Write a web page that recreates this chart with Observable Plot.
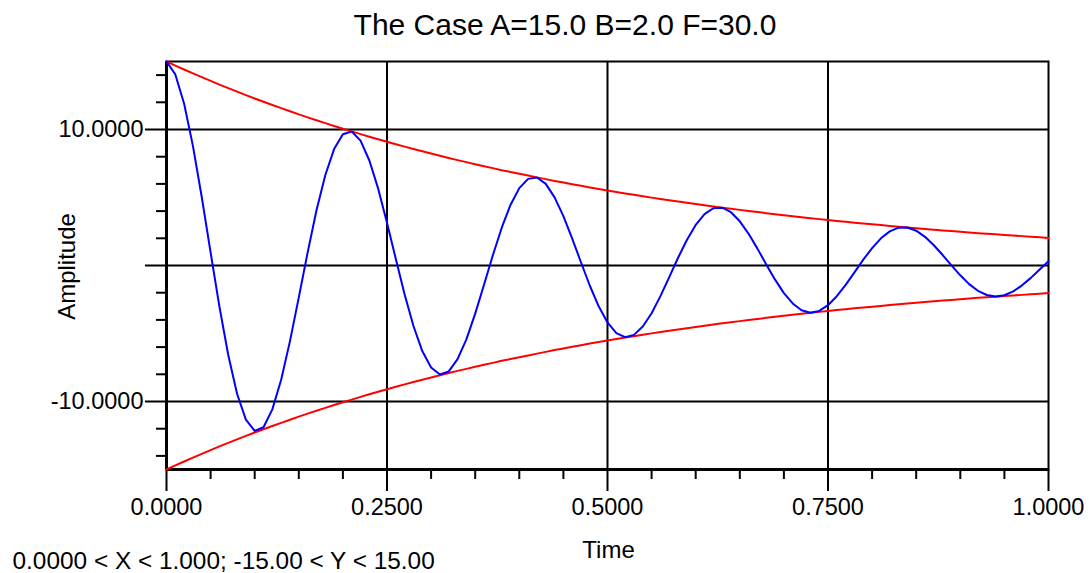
<!DOCTYPE html>
<html><head><meta charset="utf-8">
<script src="https://cdn.jsdelivr.net/npm/d3@7"></script>
<script src="https://cdn.jsdelivr.net/npm/@observablehq/plot@0.6"></script>
<style>html,body{margin:0;padding:0;background:#fff;} svg{display:block}</style>
</head><body><div id="chart"></div>
<script>
const T = [0.00,0.01,0.02,0.03,0.04,0.05,0.06,0.07,0.08,0.09,
0.10,0.11,0.12,0.13,0.14,0.15,0.16,0.17,0.18,0.19,
0.20,0.21,0.22,0.23,0.24,0.25,0.26,0.27,0.28,0.29,
0.30,0.31,0.32,0.33,0.34,0.35,0.36,0.37,0.38,0.39,
0.40,0.41,0.42,0.43,0.44,0.45,0.46,0.47,0.48,0.49,
0.50,0.51,0.52,0.53,0.54,0.55,0.56,0.57,0.58,0.59,
0.60,0.61,0.62,0.63,0.64,0.65,0.66,0.67,0.68,0.69,
0.70,0.71,0.72,0.73,0.74,0.75,0.76,0.77,0.78,0.79,
0.80,0.81,0.82,0.83,0.84,0.85,0.86,0.87,0.88,0.89,
0.90,0.91,0.92,0.93,0.94,0.95,0.96,0.97,0.98,0.99,
1.00];
const amplitude = [15.00,14.05,11.89,8.78,5.02,0.96,-3.02,-6.58,-9.43,-11.33,
-12.16,-11.89,-10.58,-8.40,-5.56,-2.34,0.95,4.04,6.64,8.56,
9.65,9.85,9.18,7.72,5.65,3.15,0.48,-2.13,-4.45,-6.29,
-7.50,-8.01,-7.79,-6.89,-5.43,-3.54,-1.42,0.75,2.76,4.45,
5.69,6.37,6.47,6.00,5.01,3.63,1.98,0.22,-1.49,-3.00,
-4.19,-4.97,-5.27,-5.10,-4.49,-3.51,-2.25,-0.85,0.57,1.88,
2.98,3.78,4.21,4.25,3.92,3.25,2.33,1.24,0.08,-1.04,
-2.03,-2.79,-3.29,-3.47,-3.34,-2.92,-2.26,-1.43,-0.51,0.43,
1.28,2.00,2.51,2.78,2.79,2.56,2.11,1.49,0.77,0.01,
-0.72,-1.37,-1.86,-2.17,-2.28,-2.19,-1.90,-1.46,-0.91,-0.30,
0.31];
const envUpper = [15.00,14.70,14.41,14.13,13.85,13.57,13.30,13.04,12.78,12.53,
12.28,12.04,11.80,11.57,11.34,11.11,10.89,10.68,10.47,10.26,
10.05,9.86,9.66,9.47,9.28,9.10,8.92,8.74,8.57,8.40,
8.23,8.07,7.91,7.75,7.60,7.45,7.30,7.16,7.01,6.88,
6.74,6.61,6.48,6.35,6.22,6.10,5.98,5.86,5.74,5.63,
5.52,5.41,5.30,5.20,5.09,4.99,4.89,4.80,4.70,4.61,
4.52,4.43,4.34,4.25,4.17,4.09,4.01,3.93,3.85,3.77,
3.70,3.63,3.55,3.48,3.41,3.35,3.28,3.22,3.15,3.09,
3.03,2.97,2.91,2.85,2.80,2.74,2.69,2.63,2.58,2.53,
2.48,2.43,2.38,2.34,2.29,2.24,2.20,2.16,2.11,2.07,
2.03];
const envLower = [-15.00,-14.70,-14.41,-14.13,-13.85,-13.57,-13.30,-13.04,-12.78,-12.53,
-12.28,-12.04,-11.80,-11.57,-11.34,-11.11,-10.89,-10.68,-10.47,-10.26,
-10.05,-9.86,-9.66,-9.47,-9.28,-9.10,-8.92,-8.74,-8.57,-8.40,
-8.23,-8.07,-7.91,-7.75,-7.60,-7.45,-7.30,-7.16,-7.01,-6.88,
-6.74,-6.61,-6.48,-6.35,-6.22,-6.10,-5.98,-5.86,-5.74,-5.63,
-5.52,-5.41,-5.30,-5.20,-5.09,-4.99,-4.89,-4.80,-4.70,-4.61,
-4.52,-4.43,-4.34,-4.25,-4.17,-4.09,-4.01,-3.93,-3.85,-3.77,
-3.70,-3.63,-3.55,-3.48,-3.41,-3.35,-3.28,-3.22,-3.15,-3.09,
-3.03,-2.97,-2.91,-2.85,-2.80,-2.74,-2.69,-2.63,-2.58,-2.53,
-2.48,-2.43,-2.38,-2.34,-2.29,-2.24,-2.20,-2.16,-2.11,-2.07,
-2.03];
const xMajorTicks = [0, 0.25, 0.5, 0.75, 1];
const xGrid = [0.25, 0.5, 0.75];
const xMinorTicks = [0.05,0.1,0.15,0.2,0.3,0.35,0.4,0.45,0.55,0.6,0.65,0.7,0.8,0.85,0.9,0.95];
const yMajorTicks = [-10, 0, 10];
const yMinorTicks = [-14,-12,-8,-6,-4,-2,2,4,6,8,12,14];
const titleText = "The Case A=15.0 B=2.0 F=30.0";
const xLabel = "Time";
const yLabel = "Amplitude";
const captionText = "0.0000 < X < 1.000; -15.00 < Y < 15.00";

const chart = Plot.plot({
  width: 1090, height: 573,
  marginLeft: 166, marginRight: 42, marginTop: 61, marginBottom: 104,
  style: {fontFamily: "'Liberation Sans', Arial, sans-serif", fontSize: "23.5px", background: "#fff", color: "#000", overflow: "visible"},
  x: {domain: [0, 1]},
  y: {domain: [-15, 15]},
  marks: [
    Plot.ruleX(xGrid, {stroke: "#000", strokeWidth: 2}),
    Plot.ruleY(yMajorTicks, {stroke: "#000", strokeWidth: 2}),
    Plot.frame({stroke: "#000", strokeWidth: 2}),
    Plot.ruleX([0], {stroke: "#000", strokeWidth: 3}),
    Plot.ruleY([-15], {stroke: "#000", strokeWidth: 3}),
    Plot.axisX(xMajorTicks, {tickSize: 22, tickPadding: 7, tickFormat: d => d.toFixed(4), strokeWidth: 2, fontSize: 23.5, label: null}),
    Plot.axisX(xMinorTicks, {tickSize: 10, tickFormat: () => "", strokeWidth: 2, label: null}),
    Plot.axisY(yMajorTicks, {tickSize: 21, tickPadding: 2, tickFormat: d => d === 0 ? "" : d.toFixed(4), strokeWidth: 2, fontSize: 23.5, label: null}),
    Plot.axisY(yMinorTicks, {tickSize: 10, tickFormat: () => "", strokeWidth: 2, label: null}),
    Plot.line(envUpper, {x: T, y: envUpper, stroke: "#ff0000", strokeWidth: 2}),
    Plot.line(envLower, {x: T, y: envLower, stroke: "#ff0000", strokeWidth: 2}),
    Plot.line(amplitude, {x: T, y: amplitude, stroke: "#0000ff", strokeWidth: 2}),
    Plot.text([titleText], {text: d => d, frameAnchor: "top-left", dx: 398.5, dy: -27, textAnchor: "middle", lineAnchor: "bottom", fontSize: 30}),
    Plot.text([xLabel], {text: d => d, frameAnchor: "bottom", dx: 1, dy: 88, textAnchor: "middle", lineAnchor: "bottom", fontSize: 24}),
    Plot.text([captionText], {text: d => d, frameAnchor: "bottom-left", dx: -154, dy: 99, textAnchor: "start", lineAnchor: "bottom", fontSize: 24.4}),
    Plot.text([yLabel], {text: d => d, frameAnchor: "left", dx: -92, dy: 1, rotate: -90, textAnchor: "middle", lineAnchor: "bottom", fontSize: 24})
  ]
});
document.getElementById("chart").appendChild(chart);
</script>
</body></html>
